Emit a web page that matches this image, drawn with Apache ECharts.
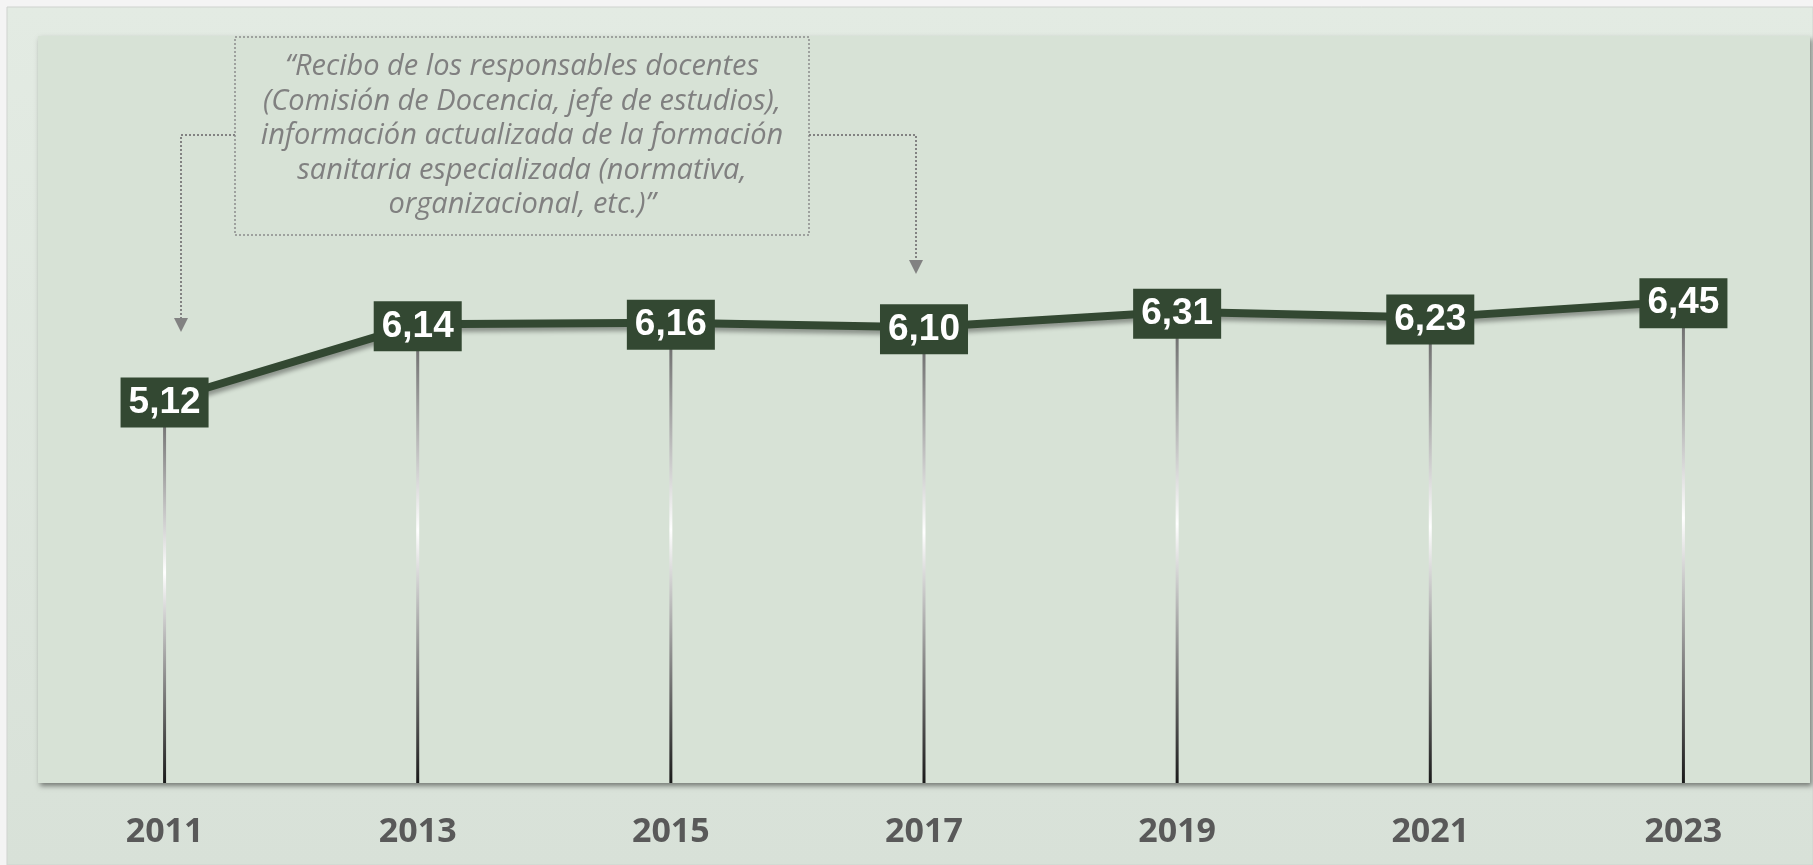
<!DOCTYPE html>
<html>
<head>
    <meta charset="utf-8">
    <script src="https://cdn.jsdelivr.net/npm/echarts@6/dist/echarts.min.js"></script>
    <style>
        html, body { margin: 0; padding: 0; background: #f4f4f4; }
        #chart { width: 1813px; height: 865px; }
    </style>
</head>
<body>
    <div id="chart"></div>
    <script type="text/javascript">
        // datos
        var years = ['2011', '2013', '2015', '2017', '2019', '2021', '2023'];
        var values = [5.12, 6.14, 6.16, 6.10, 6.31, 6.23, 6.45];
        var noteLines = [
            '\u201cRecibo de los responsables docentes',
            '(Comisión de Docencia, jefe de estudios),',
            'información actualizada de la formación',
            'sanitaria especializada (normativa,',
            'organizacional, etc.)\u201d'
        ];

        var dark = '#334832';
        var gray = '#828282';

        function fmt(v) {
            return v.toFixed(2).replace('.', ',');
        }

        var option = {
            animation: false,
            backgroundColor: '#f4f4f4',
            grid: {
                left: 38,
                right: 3,
                top: 36,
                bottom: 82,
                show: true,
                backgroundColor: '#d7e2d6',
                borderWidth: 0,
                shadowColor: 'rgba(0,0,0,0.45)',
                shadowBlur: 5,
                shadowOffsetX: 2,
                shadowOffsetY: 3
            },
            xAxis: {
                type: 'category',
                data: years,
                boundaryGap: true,
                axisLine: { show: false },
                axisTick: { show: false },
                axisLabel: {
                    margin: 32,
                    color: '#595959',
                    fontFamily: 'Open Sans',
                    fontWeight: 'bold',
                    fontSize: 34
                }
            },
            yAxis: {
                type: 'value',
                min: 0,
                max: 10,
                show: false,
                splitLine: { show: false }
            },
            graphic: [
                {
                    type: 'rect',
                    z: -10,
                    silent: true,
                    shape: { x: 7, y: 7, width: 1806, height: 858 },
                    style: {
                        fill: {
                            type: 'linear', x: 0, y: 0, x2: 0, y2: 1,
                            colorStops: [
                                { offset: 0, color: '#e3ebe3' },
                                { offset: 1, color: '#d8e1d8' }
                            ]
                        },
                        stroke: '#cfd3cf',
                        lineWidth: 1
                    }
                },
                {
                    type: 'rect',
                    z: 50,
                    shape: { x: 235, y: 37, width: 574, height: 198 },
                    style: { fill: 'none', stroke: '#8c8c8c', lineWidth: 1.5, lineDash: [2, 2] }
                },
                {
                    type: 'text',
                    z: 50,
                    x: 522,
                    y: 136,
                    style: {
                        text: noteLines.join('\n'),
                        align: 'center',
                        verticalAlign: 'middle',
                        fill: '#808080',
                        fontFamily: 'Open Sans',
                        fontStyle: 'italic',
                        fontSize: 29,
                        lineHeight: 34.4
                    }
                },
                {
                    type: 'polyline',
                    z: 50,
                    shape: { points: [[235, 135], [181, 135], [181, 319]] },
                    style: { fill: 'none', stroke: gray, lineWidth: 2, lineDash: [2, 2] }
                },
                {
                    type: 'polygon',
                    z: 50,
                    shape: { points: [[174, 318], [188, 318], [181, 332]] },
                    style: { fill: gray }
                },
                {
                    type: 'polyline',
                    z: 50,
                    shape: { points: [[809, 135], [916, 135], [916, 261]] },
                    style: { fill: 'none', stroke: gray, lineWidth: 2, lineDash: [2, 2] }
                },
                {
                    type: 'polygon',
                    z: 50,
                    shape: { points: [[909, 260], [923, 260], [916, 274]] },
                    style: { fill: gray }
                }
            ],
            series: [
                {
                    // lineas verticales
                    type: 'bar',
                    data: values,
                    barWidth: 3,
                    silent: true,
                    z: 1,
                    itemStyle: {
                        color: {
                            type: 'linear', x: 0, y: 0, x2: 0, y2: 1,
                            colorStops: [
                                { offset: 0, color: '#5e5e5e' },
                                { offset: 0.45, color: '#ffffff' },
                                { offset: 1, color: '#1a1a1a' }
                            ]
                        }
                    }
                },
                {
                    type: 'line',
                    data: values,
                    z: 5,
                    symbol: 'rect',
                    symbolSize: 2,
                    itemStyle: { color: dark },
                    lineStyle: {
                        color: dark,
                        width: 8,
                        shadowColor: 'rgba(0,0,0,0.35)',
                        shadowBlur: 4,
                        shadowOffsetX: 1,
                        shadowOffsetY: 4
                    },
                    label: {
                        show: true,
                        position: 'inside',
                        offset: [0, 2],
                        formatter: function (p) { return fmt(p.value); },
                        color: '#ffffff',
                        fontFamily: 'Liberation Sans',
                        fontWeight: 'bold',
                        fontSize: 37,
                        lineHeight: 38,
                        backgroundColor: dark,
                        padding: [6, 8, 6, 8]
                    }
                }
            ]
        };

        var myChart = echarts.init(document.getElementById('chart'));
        myChart.setOption(option);
    </script>
</body>
</html>
